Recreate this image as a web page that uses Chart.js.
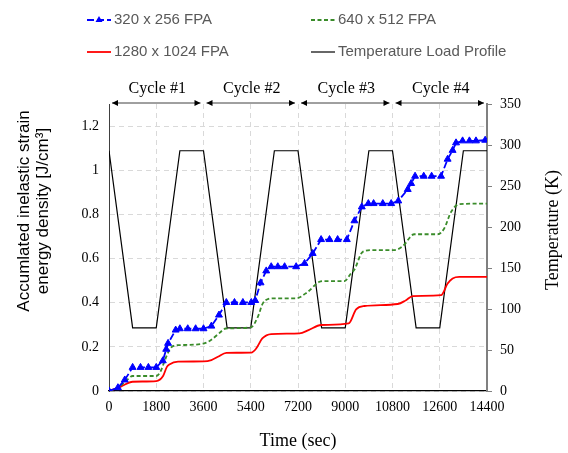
<!DOCTYPE html>
<html>
<head>
<meta charset="utf-8">
<title>Accumulated inelastic strain energy density</title>
<script src="https://cdn.jsdelivr.net/npm/chart.js@4.4.1/dist/chart.umd.min.js"></script>
<style>
  html, body { margin: 0; padding: 0; background: #fff; }
  #wrap { width: 568px; height: 453px; }
</style>
</head>
<body>
<div id="wrap"><canvas id="chart" width="568" height="453"></canvas></div>
<script>
// time in sec, energy density in J/cm3, temperature in K
const timeTicks = [0, 1800, 3600, 5400, 7200, 9000, 10800, 12600, 14400];
const energyTicks = [0, 0.2, 0.4, 0.6, 0.8, 1, 1.2];
const tempTicks = [0, 50, 100, 150, 200, 250, 300, 350];

const cycleBounds = [0, 3600, 7200, 10800, 14400];
const cycleLabels = ["Cycle #1", "Cycle #2", "Cycle #3", "Cycle #4"];

// 320 x 256 FPA
const fpa320Time = [0, 340, 600, 900, 1200, 1500, 1800, 2050, 2180, 2250, 2540, 2700, 3000, 3300, 3600,
  3900, 4190, 4470, 4780, 5100, 5420, 5570, 5775, 5990, 6180, 6430, 6690, 7130,
  7450, 7760, 8080, 8400, 8710, 9060, 9350, 9630, 9880, 10080, 10430, 10750,
  11020, 11380, 11510, 11660, 11990, 12290, 12650, 12900, 13090, 13220, 13470, 13730, 13980, 14330];
const fpa320Energy = [0, 0.015, 0.05, 0.107, 0.107, 0.107, 0.107, 0.137, 0.189, 0.216, 0.276, 0.282, 0.282, 0.282, 0.282,
  0.294, 0.344, 0.401, 0.401, 0.401, 0.401, 0.41, 0.49, 0.544, 0.563, 0.563, 0.563, 0.563,
  0.578, 0.623, 0.686, 0.686, 0.686, 0.686, 0.771, 0.834, 0.849, 0.849, 0.849, 0.849,
  0.861, 0.913, 0.94, 0.973, 0.973, 0.973, 0.973, 1.05, 1.09, 1.124, 1.133, 1.133, 1.133, 1.136];

// 640 x 512 FPA
const fpa640Time = [0, 300, 600, 900, 1800, 1950, 2100, 2200, 2350, 2550, 2700, 3600, 3900, 4200, 4450,
  5400, 5670, 5860, 6050, 6300, 7130, 7570, 8020, 8200, 8970, 9220, 9350, 9660, 9980,
  10870, 11190, 11630, 12520, 12770, 13030, 13340, 14400];
const fpa640Energy = [0, 0.012, 0.04, 0.068, 0.068, 0.085, 0.13, 0.16, 0.195, 0.207, 0.208, 0.215, 0.232, 0.262, 0.283,
  0.288, 0.336, 0.397, 0.416, 0.42, 0.42, 0.449, 0.495, 0.498, 0.498, 0.533, 0.55, 0.63, 0.638,
  0.638, 0.656, 0.71, 0.71, 0.736, 0.811, 0.846, 0.849];

// 1280 x 1024 FPA
const fpa1280Time = [0, 450, 900, 1800, 2060, 2200, 2300, 2630, 3600, 3900, 4150, 4470, 5420, 5610, 5840,
  6180, 7260, 7600, 8080, 9130, 9414, 9730, 11000, 11300, 11570, 12650, 12900, 13090, 13345, 14400];
const fpa1280Energy = [0, 0.02, 0.042, 0.045, 0.068, 0.108, 0.12, 0.133, 0.134, 0.14, 0.155, 0.173, 0.174, 0.193, 0.238,
  0.258, 0.261, 0.276, 0.299, 0.306, 0.37, 0.385, 0.394, 0.41, 0.43, 0.434, 0.487, 0.51, 0.517, 0.517];

// temperature load profile
const tempTime = [0, 900, 1800, 2700, 3600, 4500, 5400, 6300, 7200, 8100, 9000, 9900, 10800, 11700, 12600, 13500, 14400];
const tempK = [293, 77, 77, 293, 293, 77, 77, 293, 293, 77, 77, 293, 293, 77, 77, 293, 293];

function pts(xs, ys) {
  return xs.map((x, i) => ({ x: x, y: ys[i] }));
}

const serif = "'Liberation Serif', 'Times New Roman', serif";
const sans = "'Liberation Sans', Arial, sans-serif";

Chart.defaults.font.family = serif;
Chart.defaults.font.size = 14;
Chart.defaults.color = "#000";

const extras = {
  id: "extras",
  afterDraw(chart) {
    const ctx = chart.ctx;
    const xs = chart.scales.x;
    const top = chart.chartArea.top;
    ctx.save();

    // cycle arrows
    const ay = top - 1;
    ctx.strokeStyle = "#404040";
    ctx.fillStyle = "#000";
    ctx.lineWidth = 1;
    for (let i = 0; i < cycleLabels.length; i++) {
      const x0 = xs.getPixelForValue(cycleBounds[i]) + 3;
      const x1 = xs.getPixelForValue(cycleBounds[i + 1]) - 3;
      ctx.beginPath();
      ctx.moveTo(x0, ay);
      ctx.lineTo(x1, ay);
      ctx.stroke();
      arrowHead(ctx, x0, ay, -1);
      arrowHead(ctx, x1, ay, 1);
      ctx.font = "16px " + serif;
      ctx.textAlign = "center";
      ctx.textBaseline = "middle";
      ctx.fillText(cycleLabels[i], (x0 + x1) / 2 + 1, 89);
    }

    // axis titles
    ctx.fillStyle = "#000";
    ctx.textAlign = "center";
    ctx.textBaseline = "middle";
    ctx.save();
    ctx.translate(24, 211);
    ctx.rotate(-Math.PI / 2);
    ctx.font = "17px " + sans;
    ctx.fillText("Accumlated inelastic strain", 0, 0);
    ctx.fillText("energy density [J/cm\u00b3]", 0, 19.5);
    ctx.restore();

    ctx.save();
    ctx.translate(553, 230);
    ctx.rotate(-Math.PI / 2);
    ctx.font = "18px " + serif;
    ctx.fillText("Temperature (K)", 0, 0);
    ctx.restore();

    // legend, 2 x 2
    const spots = [[87, 20], [311, 20], [87, 52], [311, 52]];
    chart.data.datasets.forEach((ds, i) => {
      const [lx, ly] = spots[i];
      ctx.strokeStyle = ds.borderColor;
      ctx.lineWidth = ds.borderWidth;
      ctx.setLineDash(ds.borderDash || []);
      ctx.beginPath();
      ctx.moveTo(lx, ly);
      ctx.lineTo(lx + 24, ly);
      ctx.stroke();
      ctx.setLineDash([]);
      if (ds.pointRadius) {
        ctx.fillStyle = ds.backgroundColor;
        ctx.beginPath();
        ctx.moveTo(lx + 12, ly - 4);
        ctx.lineTo(lx + 15.5, ly + 2);
        ctx.lineTo(lx + 8.5, ly + 2);
        ctx.closePath();
        ctx.fill();
      }
      ctx.fillStyle = "#595959";
      ctx.font = "15px " + sans;
      ctx.textAlign = "left";
      ctx.fillText(ds.label, lx + 27, ly);
    });
    ctx.restore();
  }
};

function arrowHead(ctx, x, y, dir) {
  ctx.beginPath();
  ctx.moveTo(x, y);
  ctx.lineTo(x - dir * 6, y - 3);
  ctx.lineTo(x - dir * 6, y + 3);
  ctx.closePath();
  ctx.fill();
}

const plain = v => String(v);

const ctx = document.getElementById("chart").getContext("2d");
new Chart(ctx, {
  type: "line",
  data: {
    datasets: [
      {
        label: "320 x 256 FPA",
        data: pts(fpa320Time, fpa320Energy),
        borderColor: "#0000ff",
        backgroundColor: "#0000ff",
        borderWidth: 1.8,
        borderDash: [7, 3],
        pointStyle: "triangle",
        pointRadius: 4,
        pointBorderWidth: 1,
        yAxisID: "y"
      },
      {
        label: "640 x 512 FPA",
        data: pts(fpa640Time, fpa640Energy),
        borderColor: "#3a8c2a",
        borderWidth: 1.8,
        borderDash: [4, 2.5],
        pointRadius: 0,
        cubicInterpolationMode: "monotone",
        yAxisID: "y"
      },
      {
        label: "1280 x 1024 FPA",
        data: pts(fpa1280Time, fpa1280Energy),
        borderColor: "#ff0000",
        borderWidth: 1.8,
        pointRadius: 0,
        cubicInterpolationMode: "monotone",
        yAxisID: "y"
      },
      {
        label: "Temperature Load Profile",
        data: pts(tempTime, tempK),
        borderColor: "#000000",
        borderWidth: 1.2,
        pointRadius: 0,
        yAxisID: "y1"
      }
    ]
  },
  options: {
    responsive: false,
    animation: false,
    layout: { padding: { top: 104, left: 0, right: 0, bottom: 0 } },
    plugins: {
      legend: { display: false },
      tooltip: { enabled: false }
    },
    scales: {
      x: {
        type: "linear",
        min: 0,
        max: 14400,
        afterBuildTicks: s => { s.ticks = timeTicks.map(v => ({ value: v })); },
        afterFit: s => { s.height = 62; },
        ticks: { padding: 8, maxRotation: 0, autoSkip: false, callback: plain },
        grid: { color: "#d9d9d9", drawTicks: false },
        border: { color: "#000", width: 1.2, dash: [5, 4] },
        title: { display: true, text: "Time (sec)", font: { size: 18 }, padding: { top: 0, bottom: 1 } }
      },
      y: {
        position: "left",
        min: 0,
        max: 1.3,
        afterBuildTicks: s => { s.ticks = energyTicks.map(v => ({ value: v })); },
        afterFit: s => { s.width = 109; },
        ticks: { padding: 10, callback: plain },
        grid: { color: "#d9d9d9", drawTicks: false },
        border: { color: "#404040", width: 1, dash: [5, 4] }
      },
      y1: {
        position: "right",
        min: 0,
        max: 350,
        afterBuildTicks: s => { s.ticks = tempTicks.map(v => ({ value: v })); },
        afterFit: s => { s.width = 81; },
        ticks: { padding: 8, callback: plain },
        grid: { drawOnChartArea: false, drawTicks: true, tickLength: 5, color: "#808080" },
        border: { color: "#808080", width: 2 }
      }
    }
  },
  plugins: [extras]
});
</script>
</body>
</html>
